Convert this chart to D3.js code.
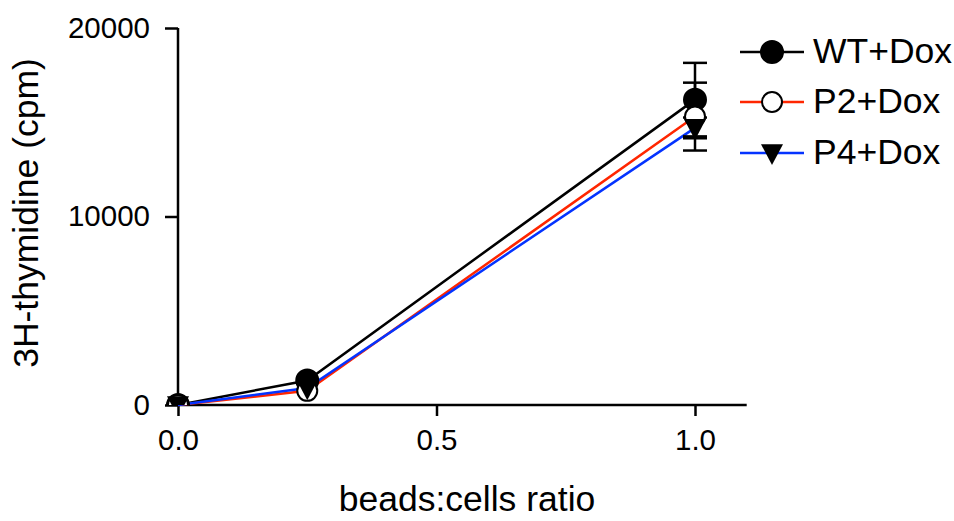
<!DOCTYPE html>
<html>
<head>
<meta charset="utf-8">
<script src="https://cdn.jsdelivr.net/npm/d3@7"></script>
<style>
  body { margin: 0; background: #fff; }
  text { font-family: "Liberation Sans", Arial, sans-serif; fill: #000; }
</style>
</head>
<body>
<div id="chart"></div>
<script>
// data
const ratios = [0, 0.25, 1.0];
const seriesNames = ['WT+Dox', 'P2+Dox', 'P4+Dox'];
const wtValues = [0, 1300, 16200];
const wtErrors = [0, 0, 1950];
const p2Values = [0, 750, 15300];
const p2Errors = [0, 0, 1800];
const p4Values = [0, 900, 14700];
const p4Errors = [0, 0, 550];
const yTicks = [0, 10000, 20000];
const xTicks = [0, 0.5, 1.0];

const series = [
  { name: seriesNames[0], values: wtValues, errors: wtErrors, color: '#000000', symbol: 'filledCircle' },
  { name: seriesNames[1], values: p2Values, errors: p2Errors, color: '#ff2600', symbol: 'openCircle' },
  { name: seriesNames[2], values: p4Values, errors: p4Errors, color: '#0433ff', symbol: 'triangle' }
];

const width = 954;
const height = 521;
const margin = { top: 28, left: 178, bottom: 116 };

const svg = d3.select('#chart')
  .append('svg')
  .attr('width', width)
  .attr('height', height);

const xScale = d3.scaleLinear().domain([0, 1.1]).range([margin.left, margin.left + 1.1 * 517]);
const yScale = d3.scaleLinear().domain([0, 20000]).range([height - margin.bottom, margin.top]);

// clip markers at the x axis like the original
svg.append('clipPath').attr('id', 'plot-clip')
  .append('rect')
  .attr('x', 0).attr('y', 0)
  .attr('width', width).attr('height', yScale(0));

// axes
const yAxisGroup = svg.append('g')
  .attr('transform', `translate(${margin.left},0)`)
  .call(d3.axisLeft(yScale).tickValues(yTicks).tickSize(13).tickPadding(15).tickFormat(d3.format('d')));
const xAxisGroup = svg.append('g')
  .attr('transform', `translate(0,${yScale(0)})`)
  .call(d3.axisBottom(xScale).tickValues(xTicks).tickSize(11).tickPadding(13).tickFormat(d3.format('.1f')));

[yAxisGroup, xAxisGroup].forEach(g => {
  g.select('.domain').attr('stroke', '#000').attr('stroke-width', 2.5);
  g.selectAll('.tick line').attr('stroke', '#000').attr('stroke-width', 2.5);
  g.selectAll('text').attr('font-size', 29.5).attr('fill', '#000')
    .style('font-family', '"Liberation Sans", Arial, sans-serif');
});
xAxisGroup.select('.domain').attr('d', `M${xScale(0)},0H${xScale(1.1)}`);
yAxisGroup.select('.domain').attr('d', `M0,${yScale(20000)}V${yScale(0)}`);

// axis titles
svg.append('text')
  .attr('x', 467).attr('y', 511)
  .attr('text-anchor', 'middle')
  .attr('font-size', 35.5)
  .text('beads:cells ratio');
svg.append('text')
  .attr('transform', `translate(38,213) rotate(-90)`)
  .attr('text-anchor', 'middle')
  .attr('font-size', 35.5)
  .text('3H-thymidine (cpm)');

function drawSymbol(g, symbol, color, cx, cy) {
  if (symbol === 'triangle') {
    const s = 11;
    g.append('path')
      .attr('d', `M${cx - s},${cy - s * 0.8}L${cx + s},${cy - s * 0.8}L${cx},${cy + s * 1.1}Z`)
      .attr('fill', '#000');
  } else {
    g.append('circle')
      .attr('cx', cx).attr('cy', cy).attr('r', symbol === 'openCircle' ? 10 : 11)
      .attr('fill', symbol === 'openCircle' ? '#fff' : '#000')
      .attr('stroke', '#000').attr('stroke-width', 2);
  }
}

const line = d3.line().x((d, i) => xScale(ratios[i])).y(d => yScale(d));

// lines
series.forEach(s => {
  svg.append('path')
    .attr('d', line(s.values))
    .attr('fill', 'none')
    .attr('stroke', s.color)
    .attr('stroke-width', 2.5);
});

// error bars
series.forEach(s => {
  s.values.forEach((v, i) => {
    if (!s.errors[i]) return;
    const x = xScale(ratios[i]);
    const g = svg.append('g').attr('stroke', '#000').attr('stroke-width', 2.5);
    g.append('line').attr('x1', x).attr('x2', x).attr('y1', yScale(v - s.errors[i])).attr('y2', yScale(v + s.errors[i]));
    [v - s.errors[i], v + s.errors[i]].forEach(e => {
      g.append('line').attr('x1', x - 12).attr('x2', x + 12).attr('y1', yScale(e)).attr('y2', yScale(e));
    });
  });
});

// markers
const markerGroup = svg.append('g').attr('clip-path', 'url(#plot-clip)');
series.forEach(s => {
  s.values.forEach((v, i) => drawSymbol(markerGroup, s.symbol, s.color, xScale(ratios[i]), yScale(v)));
});

// legend
const legendY = [52, 102, 153];
series.forEach((s, i) => {
  const g = svg.append('g');
  g.append('line')
    .attr('x1', 740).attr('x2', 804)
    .attr('y1', legendY[i]).attr('y2', legendY[i])
    .attr('stroke', s.color).attr('stroke-width', 2.5);
  drawSymbol(g, s.symbol, s.color, 772, legendY[i]);
  g.append('text')
    .attr('x', 813).attr('y', legendY[i] + 11)
    .attr('font-size', 35.5)
    .text(s.name);
});
</script>
</body>
</html>
